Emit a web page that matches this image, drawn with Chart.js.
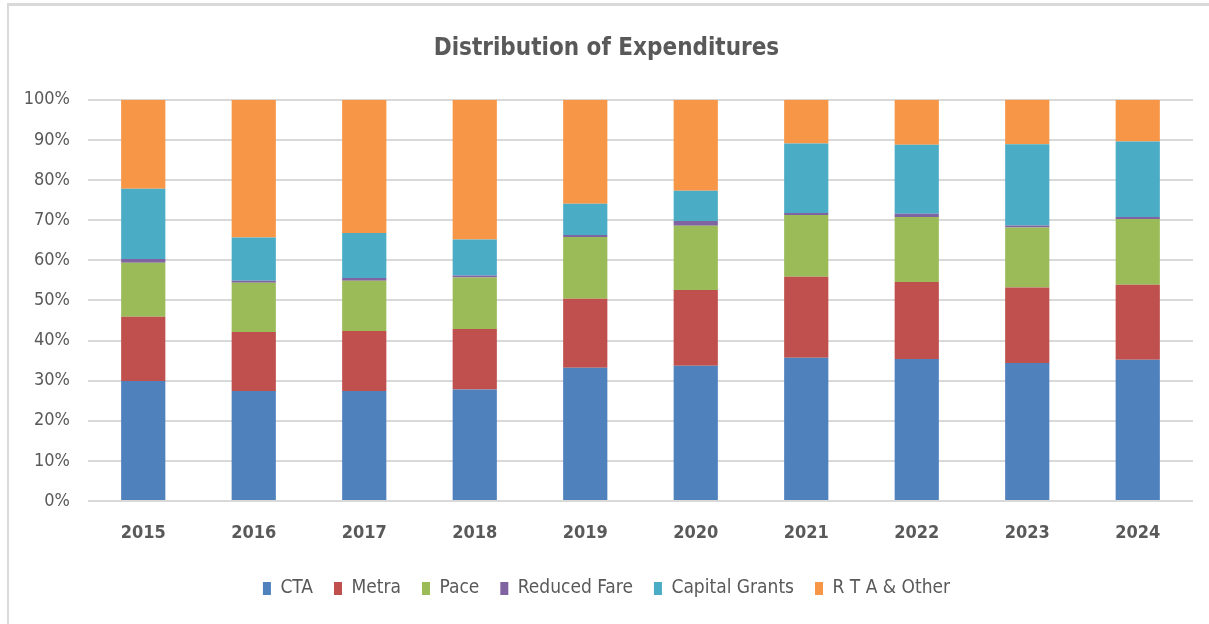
<!DOCTYPE html>
<html>
<head>
<meta charset="utf-8">
<script src="https://cdn.jsdelivr.net/npm/chart.js@4"></script>
<style>
  html, body { margin: 0; padding: 0; background: #ffffff; }
  #wrap { position: absolute; left: 0; top: 0; width: 1209px; height: 624px; }
  #frameTop { position: absolute; left: 7px; top: 3px; width: 1202px; height: 3px; background: #d9d9d9; }
  #frameLeft { position: absolute; left: 7px; top: 3px; width: 2px; height: 621px; background: #d9d9d9; }
</style>
</head>
<body>
<div id="wrap"><canvas id="c" width="1209" height="624"></canvas></div>
<div id="frameTop"></div>
<div id="frameLeft"></div>
<script>
const years = ['2015','2016','2017','2018','2019','2020','2021','2022','2023','2024'];
const seriesNames = ['CTA','Metra','Pace','Reduced Fare','Capital Grants','R T A & Other'];
const cta           = [29.9, 27.4, 27.4, 27.8, 33.2, 33.7, 35.7, 35.4, 34.4, 35.2];
const metra         = [16.0, 14.7, 15.0, 15.1, 17.2, 18.9, 20.2, 19.2, 18.8, 18.7];
const pace          = [13.5, 12.3, 12.5, 12.8, 15.4, 16.0, 15.4, 16.2, 15.0, 16.4];
const reducedFare   = [0.9, 0.5, 0.7, 0.5, 0.5, 1.2, 0.5, 0.8, 0.5, 0.5];
const capitalGrants = [17.5, 10.8, 11.2, 9.0, 7.8, 7.5, 17.3, 17.2, 20.2, 18.8];
const rtaOther      = [22.2, 34.3, 33.2, 34.8, 25.9, 22.7, 10.9, 11.2, 11.2, 10.4];
const yTicks = [0,10,20,30,40,50,60,70,80,90,100];

const colors = ['#4F81BD','#C0504D','#9BBB59','#8064A2','#4BACC6','#F79646'];
const values = [cta, metra, pace, reducedFare, capitalGrants, rtaOther];
const FONT = "'Liberation Sans Narrow', 'DejaVu Sans Condensed', 'Liberation Sans', sans-serif";

new Chart(document.getElementById('c'), {
  type: 'bar',
  data: {
    labels: years,
    datasets: seriesNames.map((n, i) => ({
      label: n,
      data: values[i],
      backgroundColor: colors[i],
      borderWidth: 0,
      barPercentage: 0.4,
      categoryPercentage: 1.0
    }))
  },
  options: {
    responsive: false,
    animation: false,
    layout: { padding: { left: 20, right: 16, top: 0, bottom: 16 } },
    plugins: {
      title: {
        display: true,
        text: 'Distribution of Expenditures',
        color: '#595959',
        font: { family: FONT, size: 24, weight: 'bold' },
        padding: { top: 34, bottom: 37 }
      },
      legend: {
        position: 'bottom',
        labels: {
          color: '#595959',
          font: { family: FONT, size: 19 },
          boxWidth: 8,
          boxHeight: 13,
          padding: 21
        }
      },
      tooltip: { enabled: false }
    },
    scales: {
      x: {
        stacked: true,
        grid: { display: false },
        border: { display: false },
        ticks: { color: '#595959', font: { family: FONT, size: 18, weight: 'bold' }, padding: 14 },
        afterFit: (s) => { s.height = 57; }
      },
      y: {
        stacked: true,
        min: 0,
        max: 100,
        afterBuildTicks: (s) => { s.ticks = yTicks.map(v => ({ value: v })); },
        grid: { color: '#d9d9d9', lineWidth: 2, drawTicks: false },
        border: { display: false },
        ticks: {
          color: '#595959',
          font: { family: FONT, size: 18 },
          padding: 18,
          callback: (v) => v + '%'
        },
        afterFit: (s) => { s.width = 68; }
      }
    }
  }
});
</script>
</body>
</html>
